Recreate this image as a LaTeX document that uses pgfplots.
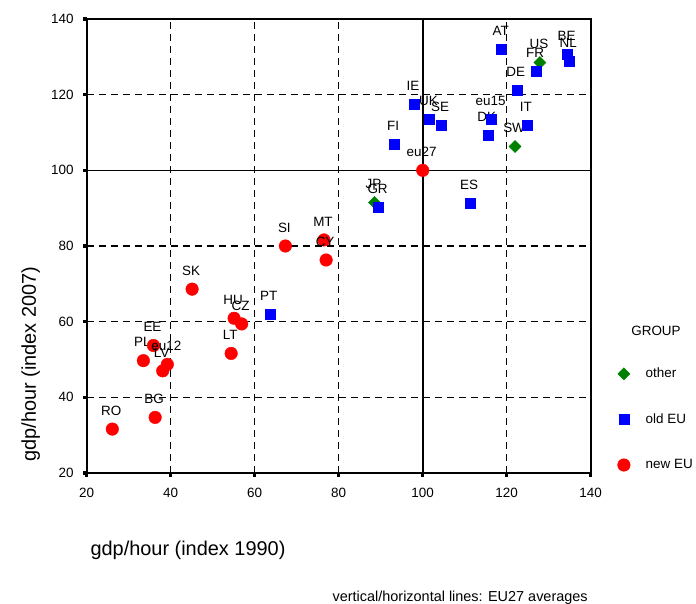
\documentclass[border=0pt]{standalone}
\usepackage{fontspec}
\setmainfont{Liberation Sans}
\usepackage{pgfplots}
\pgfplotsset{compat=1.18}

\definecolor{grpgreen}{RGB}{0,128,0}
\definecolor{grpblue}{RGB}{0,0,255}
\definecolor{grpred}{RGB}{255,0,0}

\begin{document}
\begin{tikzpicture}
\useasboundingbox (0,0) rectangle (696bp,604bp);
\begin{axis}[
  at={(86.7bp,131bp)}, anchor=south west,
  scale only axis, width=504bp, height=454bp,
  xmin=20, xmax=140, ymin=20, ymax=140,
  xtick={20,40,...,140}, ytick={20,40,...,140},
  tick pos=left,
  tick align=outside,
  major tick length=3.5bp,
  tick style={line width=3.5bp, black},
  axis line style={line width=2bp},
  grid=major,
  major grid style={dash pattern=on 7bp off 5bp, line width=1.4bp, black},
  ticklabel style={font=\fontsize{13.5}{15}\selectfont},
  xticklabel style={yshift=-8bp},
  yticklabel style={xshift=-6bp},
  /pgf/number format/assume math mode=true,
  clip=false,
  xlabel={gdp/hour (index 1990)},
  ylabel={gdp/hour (index 2007)},
  label style={font=\fontsize{20}{24}\selectfont},
  xlabel style={at={(axis description cs:0.201,-0.170)}, anchor=center},
  ylabel style={at={(axis description cs:-0.111,0.240)}, anchor=center},
  legend style={at={(axis description cs:1.053,0.2357)}, anchor=north west,
    draw=none, fill=none, inner sep=0pt, row sep=30.5bp,
    font=\fontsize{13.5}{15}\selectfont,
    /tikz/every odd column/.append style={column sep=13.5bp}},
  legend cell align=left,
  nodes near coords,
  nodes near coords align={anchor=base},
  every node near coord/.append style={font=\fontsize{13.5}{15}\selectfont,
    text=black, inner sep=0pt, yshift=13.7bp, xshift=-1bp},
]

% other
\addplot[only marks, mark=square*, mark size=4.3bp, mark options={rotate=45},
  color=grpgreen, point meta=explicit symbolic] table[meta=lab] {
x y lab
88.5 91.5 JP
122.0 106.3 SW
127.9 128.5 US
};
\addlegendentry{other}

% old EU
\addplot[only marks, mark=square*, mark size=5bp, color=grpblue,
  point meta=explicit symbolic] table[meta=lab] {
x y lab
63.6 62.1 PT
89.5 90.2 GR
111.3 91.3 ES
93.2 106.8 FI
97.9 117.5 IE
101.6 113.5 UK
104.4 111.9 SE
115.5 109.3 DK
116.4 113.4 eu15
124.8 111.9 IT
122.4 121.2 DE
118.8 132.0 AT
127.0 126.3 FR
134.5 130.8 BE
134.9 128.9 NL
};
\addlegendentry{old EU}

% new EU
\addplot[only marks, mark=*, mark size=6.3bp, color=grpred,
  point meta=explicit symbolic] table[meta=lab] {
x y lab
100.0 100.0 eu27
26.1 31.6 RO
36.3 34.7 BG
33.5 49.7 PL
35.9 53.7 EE
38.1 47.0 LV
39.2 48.7 eu12
45.1 68.6 SK
54.4 51.6 LT
55.1 60.9 HU
56.9 59.4 CZ
67.3 80.0 SI
76.5 81.6 MT
77.0 76.3 CY
};
\addlegendentry{new EU}

% EU27 average lines
\addplot[forget plot, no marks, nodes near coords=, line width=1.6bp, black] coordinates {(100,20) (100,140)};
\addplot[forget plot, no marks, nodes near coords=, line width=1.6bp, black] coordinates {(20,100) (140,100)};

\node[font=\fontsize{13.5}{15}\selectfont, anchor=center] at (axis description cs:1.1296,0.3128) {GROUP};
\node[font=\fontsize{14.5}{16}\selectfont, anchor=center] at (axis description cs:0.741,-0.275) {vertical/horizontal lines: EU27 averages};

\end{axis}
\end{tikzpicture}
\end{document}
